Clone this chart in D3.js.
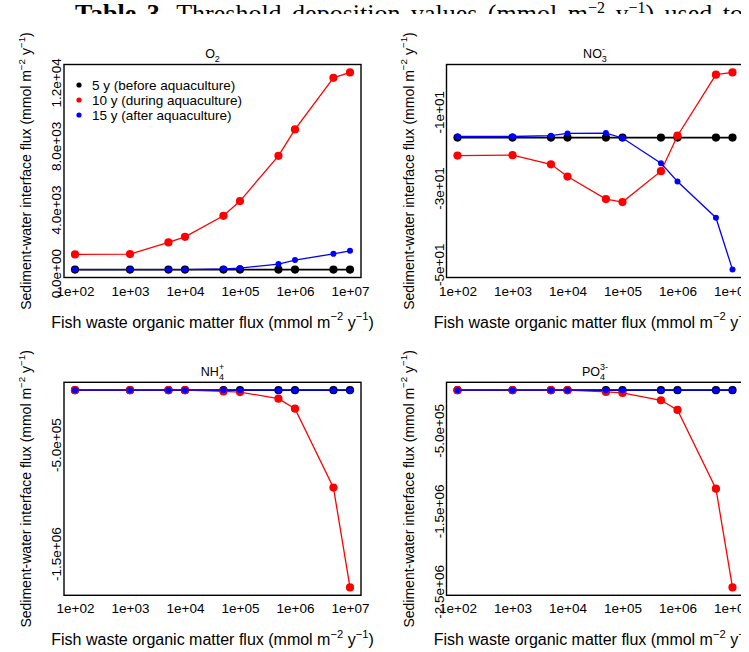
<!DOCTYPE html>
<html><head><meta charset="utf-8">
<script src="https://cdn.jsdelivr.net/npm/d3@7"></script>
<style>
body{margin:0;background:#fff}
svg{display:block}
text{font-family:"Liberation Sans",Arial,sans-serif;fill:#000}
</style>
</head><body>
<svg id="chart" width="749" height="652"></svg>
<script>
// ---------------- data ----------------
const xValues = [1e2, 1e3, 5e3, 1e4, 5e4, 1e5, 5e5, 1e6, 5e6, 1e7];
const xTickValues = [1e2, 1e3, 1e4, 1e5, 1e6, 1e7];
const xTickLabels = ["1e+02", "1e+03", "1e+04", "1e+05", "1e+06", "1e+07"];
const seriesNames = ["5 y (before aquaculture)", "10 y (during aquaculture)", "15 y (after aquaculture)"];
const seriesColors = ["#000000", "#ff0000", "#0000ff"];

const o2Before = [220, 220, 220, 220, 220, 220, 220, 220, 220, 220];
const o2During = [1176, 1195, 1931, 2283, 3604, 4529, 7378, 9039, 12284, 12624];
const o2After  = [220, 220, 220, 225, 270, 315, 566, 818, 1214, 1403];
const o2TickValues = [0, 4000, 8000, 12000];
const o2TickLabels = ["0.0e+00", "4.0e+03", "8.0e+03", "1.2e+04"];

const no3Before = [-16.8, -16.8, -16.8, -16.8, -16.8, -16.8, -16.8, -16.8, -16.8, -16.8];
const no3During = [-21.5, -21.4, -23.8, -27.0, -32.9, -33.7, -25.6, -16.3, -0.3, 0.3];
const no3After  = [-16.5, -16.5, -16.3, -15.7, -15.6, -16.9, -23.5, -28.3, -37.8, -51.4];
const no3TickValues = [-10, -30, -50];
const no3TickLabels = ["-1e+01", "-3e+01", "-5e+01"];

const nh4Before = [0, 0, 0, 0, 0, 0, 0, 0, 0, 0];
const nh4During = [0, 0, 0, 0, -1.1e4, -1.7e4, -7.8e4, -1.7e5, -8.94e5, -1.81e6];
const nh4After  = [0, 0, 0, 0, 0, 0, 0, 0, 0, 0];
const nh4TickValues = [-5e5, -1.5e6];
const nh4TickLabels = ["-5.0e+05", "-1.5e+06"];

const po4Before = [0, 0, 0, 0, 0, 0, 0, 0, 0, 0];
const po4During = [0, 0, 0, 0, -2.1e4, -3.4e4, -1.25e5, -2.45e5, -1.224e6, -2.45e6];
const po4After  = [0, 0, 0, 0, 0, 0, 0, 0, 0, 0];
const po4TickValues = [-5e5, -1.5e6, -2.5e6];
const po4TickLabels = ["-5.0e+05", "-1.5e+06", "-2.5e+06"];

const xTitle = "Fish waste organic matter flux (mmol m";
const yTitle = "Sediment-water interface flux (mmol m";

// ---------------- layout ----------------
const svg = d3.select("#chart");

const panels = [
  {box:[64, 64.5, 361, 277.5], series:[o2Before, o2During, o2After], ticks:o2TickValues, labels:o2TickLabels,
   title:{base:"O", sub:"2", sup:null}, legend:true},
  {box:[446.5, 64.5, 743.5, 277.5], series:[no3Before, no3During, no3After], ticks:no3TickValues, labels:no3TickLabels,
   title:{base:"NO", sub:"3", sup:"-"}},
  {box:[64, 382.3, 361, 595.3], series:[nh4Before, nh4During, nh4After], ticks:nh4TickValues, labels:nh4TickLabels,
   title:{base:"NH", sub:"4", sup:"+"}},
  {box:[446.5, 382.3, 743.5, 595.3], series:[po4Before, po4During, po4After], ticks:po4TickValues, labels:po4TickLabels,
   title:{base:"PO", sub:"4", sup:"3-"}}
];

// header text from the page (cut off), justified with word spacing
const clip = svg.append("defs").append("clipPath").attr("id","hdrclip");
clip.append("rect").attr("x",0).attr("y",0).attr("width",749).attr("height",14);
const hdr = svg.append("text").attr("clip-path","url(#hdrclip)")
  .attr("x", 75).attr("y", 22)
  .style("font-family", "'Liberation Serif','Times New Roman',serif").style("font-size","26px");
hdr.append("tspan").style("font-weight","bold").text("Table 3.");
hdr.append("tspan").text(" Threshold deposition values (mmol m");
hdr.append("tspan").attr("dy",-9).style("font-size","16px").text("\u22122");
hdr.append("tspan").attr("dy",9).text(" y");
hdr.append("tspan").attr("dy",-9).style("font-size","16px").text("\u22121");
hdr.append("tspan").attr("dy",9).text(") used to");
const naturalW = hdr.node().getComputedTextLength();
hdr.style("word-spacing", Math.max(0, (668 - naturalW) / 9) + "px");

function drawTitleWithUnits(g, x, y, rot, main, size){
  const t = g.append("text").attr("text-anchor","middle").style("font-size", size+"px")
    .attr("transform", `translate(${x},${y}) rotate(${rot})`);
  t.append("tspan").text(main);
  t.append("tspan").attr("dy", -size*0.45).style("font-size", (size*0.7)+"px").text("\u22122");
  t.append("tspan").attr("dy", size*0.45).text(" y");
  t.append("tspan").attr("dy", -size*0.45).style("font-size", (size*0.7)+"px").text("\u22121");
  t.append("tspan").attr("dy", size*0.45).text(")");
}

panels.forEach((p, pi) => {
  const [L, T, R, B] = p.box;
  const g = svg.append("g");
  const x = d3.scaleLog().domain([Math.pow(10, 2 - 0.2), Math.pow(10, 7 + 0.2)]).range([L, R]);
  const all = p.series.flat();
  const mn = d3.min(all), mx = d3.max(all), pad = (mx - mn) * 0.04;
  const y = d3.scaleLinear().domain([mn - pad, mx + pad]).range([B, T]);

  // series: black, red, blue
  p.series.forEach((vals, si) => {
    const pts = xValues.map((xv, i) => [x(xv), y(vals[i])]);
    g.append("path").attr("d", d3.line()(pts)).attr("fill","none")
      .attr("stroke", seriesColors[si]).attr("stroke-width", si === 0 ? 1.8 : 1.3);
    g.selectAll(null).data(pts).enter().append("circle")
      .attr("cx", d => d[0]).attr("cy", d => d[1]).attr("r", si === 2 ? 3 : 4.1)
      .attr("fill", seriesColors[si]);
  });

  // box
  g.append("rect").attr("x", L).attr("y", T).attr("width", R - L).attr("height", B - T)
    .attr("fill","none").attr("stroke","#000").attr("stroke-width",1.4);

  // x axis labels (no tick marks)
  const xa = d3.axisBottom(x).tickValues(xTickValues).tickSize(0)
    .tickFormat((d, i) => xTickLabels[i]);
  const xg = g.append("g").attr("transform", `translate(0,${B})`).call(xa);
  xg.select(".domain").remove();
  xg.selectAll("text").attr("dy", 0).attr("y", 18).style("font-size","13.5px").style("font-family","'Liberation Sans',Arial,sans-serif");

  // y axis labels (rotated)
  const ya = d3.axisLeft(y).tickValues(p.ticks).tickSize(0).tickFormat((d, i) => p.labels[i]);
  const yg = g.append("g").attr("transform", `translate(${L},0)`).call(ya);
  yg.select(".domain").remove();
  yg.selectAll("text").attr("x", null).attr("dy", null).attr("text-anchor","middle")
    .attr("transform", "translate(-3,0) rotate(-90)")
    .style("font-size","13.5px").style("font-family","'Liberation Sans',Arial,sans-serif");

  // panel title
  const cx = (L + R) / 2;
  const tt = g.append("text").attr("x", cx).attr("y", T - 6.5).attr("text-anchor","middle").style("font-size","12.5px");
  tt.append("tspan").text(p.title.base);
  tt.append("tspan").attr("dy", 4).style("font-size","9px").text(p.title.sub);
  if (p.title.sup) {
    const w = p.title.sub.length * 5;
    tt.append("tspan").attr("dx", -w).attr("dy", -10).style("font-size","9px").text(p.title.sup);
  }

  // axis titles
  drawTitleWithUnits(g, cx, B + 50, 0, xTitle, 16);
  drawTitleWithUnits(g, L - 33, (T + B) / 2, -90, yTitle, 14);

  // legend
  if (p.legend) {
    const lg = g.append("g");
    seriesNames.forEach((nm, i) => {
      const ly = 85 + i * 15;
      lg.append("circle").attr("cx", 79).attr("cy", ly).attr("r", 2.6).attr("fill", seriesColors[i]);
      lg.append("text").attr("x", 92).attr("y", ly + 5).style("font-size","13.5px").text(nm);
    });
  }
});

// the original image is cut on the right
svg.append("rect").attr("x", 741).attr("y", 0).attr("width", 8).attr("height", 652).attr("fill", "#fff");
</script>
</body></html>
